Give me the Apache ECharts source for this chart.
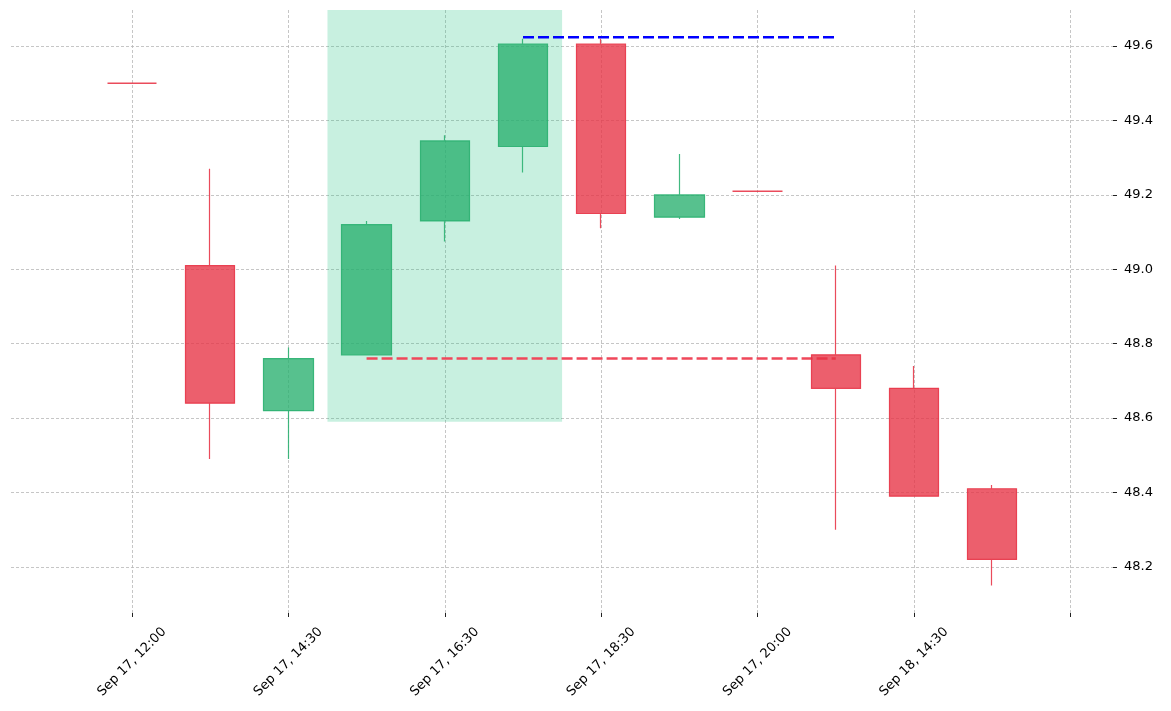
<!DOCTYPE html>
<html>
<head>
<meta charset="utf-8">
<script src="https://cdn.jsdelivr.net/npm/echarts@6/dist/echarts.min.js"></script>
<style>
  html, body { margin: 0; padding: 0; background: #fff; }
  #main { width: 1171px; height: 711px; }
</style>
</head>
<body>
<div id="main"></div>
<script>
  // candle order / values: [open, close, low, high]
  const candleIdx = [0, 1, 2, 3, 4, 5, 6, 7, 8, 9, 10, 11]
  const opens  = [49.50, 49.01, 48.62, 48.77, 49.13, 49.33, 49.605, 49.14, 49.21, 48.77, 48.68, 48.41]
  const closes = [49.50, 48.64, 48.76, 49.12, 49.345, 49.605, 49.15, 49.20, 49.21, 48.68, 48.39, 48.22]
  const lows   = [49.50, 48.49, 48.49, 48.77, 49.075, 49.26, 49.11, 49.135, 49.21, 48.30, 48.39, 48.15]
  const highs  = [49.50, 49.27, 48.79, 49.13, 49.36, 49.62, 49.62, 49.31, 49.21, 49.01, 48.74, 48.42]
  const dojiRed = [0, 8] // flat candles drawn red

  const tickPos = [0, 2, 4, 6, 8, 10, 12]
  const tickLabels = ['Sep 17, 12:00', 'Sep 17, 14:30', 'Sep 17, 16:30', 'Sep 17, 18:30', 'Sep 17, 20:00', 'Sep 18, 14:30', '']
  const yTicks = [48.2, 48.4, 48.6, 48.8, 49.0, 49.2, 49.4, 49.6]

  // highlighted zone and levels
  const zoneX = [2.5, 5.5]
  const zoneLow = 48.59
  const supportLine = [[3, 48.76], [9, 48.76]]
  const resistLine = [[5, 49.624], [9, 49.624]]

  const GREEN = 'rgba(40,175,110,0.78)'
  const GREEN_B = 'rgba(40,175,110,0.88)'
  const RED = 'rgba(231,50,68,0.78)'
  const RED_B = 'rgba(231,50,68,0.88)'

  const yMin = 48.076
  const yMax = 49.697

  let candleData = candleIdx.map((x, i) => {
    let item = { value: [x, opens[i], closes[i], lows[i], highs[i]] }
    if (dojiRed.includes(i)) {
      item.itemStyle = { color: RED, color0: RED, borderColor: RED_B, borderColor0: RED_B, borderColorDoji: RED_B, borderWidth: 1.5 }
    }
    return item
  })

  let labelMap = new Map()
  tickPos.forEach((p, i) => labelMap.set(p, tickLabels[i]))

  let chart = echarts.init(document.getElementById('main'))
  let font = 'DejaVu Sans'
  let option = {
    animation: false,
    backgroundColor: '#fff',
    grid: { left: 11, right: 58, top: 10, bottom: 98, containLabel: false },
    xAxis: {
      type: 'value',
      min: -1.547,
      max: 12.545,
      axisLine: { show: false, onZero: false },
      axisTick: { show: true, length: 4, lineStyle: { color: '#222', width: 1 }, customValues: tickPos },
      axisLabel: {
        customValues: tickPos,
        rotate: 45,
        align: 'center',
        verticalAlign: 'middle',
        margin: 49,
        color: '#000',
        fontFamily: font,
        fontSize: 13,
        formatter: v => labelMap.get(Math.round(v)) || ''
      },
      splitLine: { show: true, lineStyle: { color: '#b8b8b8', width: 0.8, type: [3, 2] } }
    },
    yAxis: {
      type: 'value',
      position: 'right',
      min: yMin,
      max: yMax,
      scale: true,
      axisLine: { show: false, onZero: false },
      axisTick: { show: true, length: 4, lineStyle: { color: '#222', width: 1 }, customValues: yTicks },
      axisLabel: {
        customValues: yTicks,
        margin: 11,
        color: '#000',
        fontFamily: font,
        fontSize: 13,
        formatter: v => v.toFixed(1)
      },
      splitLine: { show: true, lineStyle: { color: '#b8b8b8', width: 0.8, type: [3, 2] } }
    },
    series: [
      {
        type: 'line',
        data: [],
        z: 1,
        markArea: {
          silent: true,
          itemStyle: { color: 'rgba(44,197,136,0.26)' },
          data: [[{ coord: [zoneX[0], zoneLow] }, { coord: [zoneX[1], yMax] }]]
        }
      },
      {
        type: 'candlestick',
        z: 2,
        barWidth: 50,
        encode: { x: 0, y: [1, 2, 3, 4] },
        itemStyle: {
          color: GREEN,
          color0: RED,
          borderColor: GREEN_B,
          borderColor0: RED_B,
          borderWidth: 1.2
        },
        data: candleData
      },
      {
        type: 'line',
        z: 1,
        data: supportLine,
        symbol: 'none',
        lineStyle: { color: '#f0475a', width: 2.5, type: [11, 4] }
      },
      {
        type: 'line',
        z: 3,
        data: resistLine,
        symbol: 'none',
        lineStyle: { color: '#0000ff', width: 2.5, type: [11, 4] }
      }
    ]
  }
  chart.setOption(option)
</script>
</body>
</html>
